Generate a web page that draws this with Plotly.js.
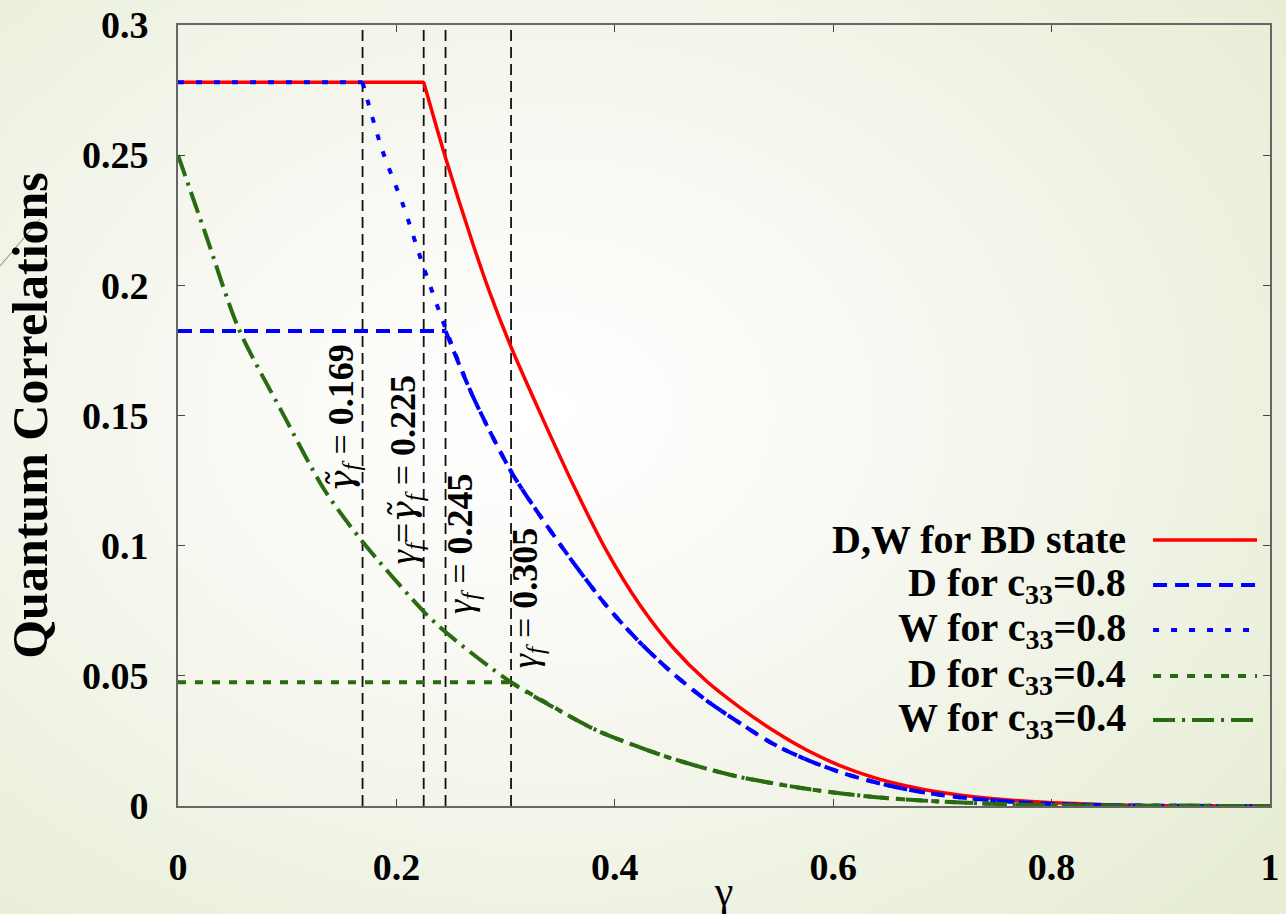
<!DOCTYPE html>
<html>
<head>
<meta charset="utf-8">
<script src="https://cdn.plot.ly/plotly-3.0.1.min.js"></script>
<style>
  html, body { margin: 0; padding: 0; }
  body {
    width: 1286px; height: 914px; overflow: hidden;
    background: radial-gradient(ellipse 75% 80% at 42% 45%, #ffffff 0%, #f8f9f3 35%, #eef2e2 70%, #e6edd3 100%);
  }
  #chart { width: 1286px; height: 914px; }
</style>
</head>
<body>
<div id="chart"></div>
<script>
// ---- Data ----
const gammaBD = [0, 0.225, 0.245, 0.2704, 0.2857, 0.305, 0.3315, 0.362, 0.3926, 0.423, 0.4536, 0.4841, 0.5147, 0.5452, 0.5757, 0.6062, 0.6367, 0.6673, 0.6978, 0.7283, 0.789, 0.85, 0.9, 1.0];
const qcBD    = [0.278, 0.278, 0.249, 0.2155, 0.197, 0.1763, 0.1511, 0.1233, 0.0979, 0.0772, 0.0607, 0.0479, 0.0378, 0.029, 0.0215, 0.0155, 0.011, 0.0077, 0.0053, 0.0036, 0.0015, 0.0005, 0.0001, 0];

const gammaD08 = [0, 0.245, 0.2704, 0.305, 0.3315, 0.362, 0.3926, 0.423, 0.4536, 0.4841, 0.5147, 0.5452, 0.5757, 0.6062, 0.6367, 0.6673, 0.6978, 0.7283, 0.789, 0.85, 0.9, 1.0];
const qcD08    = [0.1825, 0.1825, 0.157, 0.1285, 0.1115, 0.0935, 0.0768, 0.0628, 0.0508, 0.0405, 0.0318, 0.0238, 0.0178, 0.013, 0.0093, 0.0064, 0.0043, 0.0028, 0.001, 0.0003, 0.0001, 0];

const gammaW08 = [0, 0.169, 0.187, 0.206, 0.2245, 0.245, 0.2704, 0.305, 0.3315, 0.362, 0.3926, 0.423, 0.4536, 0.4841, 0.5147, 0.5452, 0.5757, 0.6062, 0.6367, 0.6673, 0.6978, 0.7283, 0.789, 0.85, 0.9, 1.0];
const qcW08    = [0.278, 0.278, 0.252, 0.231, 0.2075, 0.1835, 0.157, 0.1285, 0.1115, 0.0935, 0.0768, 0.0628, 0.0508, 0.0405, 0.0318, 0.0238, 0.0178, 0.013, 0.0093, 0.0064, 0.0043, 0.0028, 0.001, 0.0003, 0.0001, 0];

const gammaD04 = [0, 0.305, 0.362, 0.3864, 0.4475, 0.5085, 0.5757, 0.6367, 0.6978, 0.75, 0.8, 0.9, 1.0];
const qcD04    = [0.0475, 0.0475, 0.0337, 0.0285, 0.0189, 0.0117, 0.0066, 0.0035, 0.0017, 0.0008, 0.0003, 0.0001, 0];

const gammaW04 = [0, 0.025, 0.0556, 0.0948, 0.134, 0.169, 0.225, 0.245, 0.305, 0.362, 0.3864, 0.4475, 0.5085, 0.5757, 0.6367, 0.6978, 0.75, 0.8, 0.9, 1.0];
const qcW04    = [0.25, 0.22, 0.1833, 0.1517, 0.1215, 0.1015, 0.0747, 0.0668, 0.0475, 0.0337, 0.0285, 0.0189, 0.0117, 0.0066, 0.0035, 0.0017, 0.0008, 0.0003, 0.0001, 0];

const gammaF = [0.169, 0.225, 0.245, 0.305];
const TILDE_G = '<span style="font-family:DejaVu Serif">γ̃</span>';
const gammaFLabels = [
  '<i>' + TILDE_G + '<sub>f</sub></i> = <b>0.169</b>',
  '<i>γ<sub>f</sub></i>=<i>' + TILDE_G + '<sub>f</sub></i> = <b>0.225</b>',
  '<i>γ<sub>f</sub></i> = <b>0.245</b>',
  '<i>γ<sub>f</sub></i> = <b>0.305</b>'
];

const seriesNames = [
  'D,W for BD state',
  'D for c<sub>33</sub>=0.8',
  'W for c<sub>33</sub>=0.8',
  'D for c<sub>33</sub>=0.4',
  'W for c<sub>33</sub>=0.4'
];

const xTickVals = [0, 0.2, 0.4, 0.6, 0.8, 1];
const xTickText = ['0', '0.2', '0.4', '0.6', '0.8', '1'];
const yTickVals = [0, 0.05, 0.1, 0.15, 0.2, 0.25, 0.3];
const yTickText = ['0', '0.05', '0.1', '0.15', '0.2', '0.25', '0.3'];

// ---- Styles ----
const FONT = 'Liberation Serif, Times New Roman, serif';
const styles = [
  {color: '#ff0000', dash: 'solid', width: 3.5},
  {color: '#0000ff', dash: '14px,8px', width: 4},
  {color: '#0000ff', dash: '6px,12px', width: 4},
  {color: '#2a6a10', dash: '8px,9px', width: 4},
  {color: '#2a6a10', dash: '22px,7px,3px,7px', width: 4}
];
const xs = [gammaBD, gammaD08, gammaW08, gammaD04, gammaW04];
const ys = [qcBD, qcD08, qcW08, qcD04, qcW04];
const Y_MAX = 0.3;

const traces = [];
gammaF.forEach(g => {
  traces.push({
    x: [g, g], y: [0, Y_MAX], mode: 'lines', type: 'scatter',
    line: {color: '#111', width: 1.8, dash: '11px,6px'},
    hoverinfo: 'skip', showlegend: false
  });
});
xs.forEach((x, i) => {
  const y = ys[i];
  // flat plateau (linear) then smooth decay (spline)
  let k = 0;
  while (k + 1 < y.length && y[k + 1] === y[0]) k++;
  const line = {color: styles[i].color, width: styles[i].width, dash: styles[i].dash};
  if (k > 0) {
    traces.push({x: x.slice(0, k + 1), y: y.slice(0, k + 1), mode: 'lines', type: 'scatter',
      name: seriesNames[i], line: Object.assign({}, line, {shape: 'linear'}), showlegend: false});
  }
  traces.push({x: x.slice(k), y: y.slice(k), mode: 'lines', type: 'scatter',
    name: seriesNames[i], line: Object.assign({}, line, {shape: 'spline', smoothing: 0.8}), showlegend: false});
});

// ---- Custom legend (text on the left, sample on the right) ----
const annotations = [];
const shapes = [];
const legendY = [0.3406, 0.283, 0.2254, 0.1665, 0.110];
seriesNames.forEach((n, i) => {
  annotations.push({
    xref: 'paper', yref: 'paper', x: 0.870, y: legendY[i],
    xanchor: 'right', yanchor: 'middle', showarrow: false,
    text: '<b>' + n + '</b>',
    font: {family: FONT, size: 40, color: '#000'}
  });
  shapes.push({
    type: 'line', xref: 'paper', yref: 'paper',
    x0: 0.8929, x1: 0.9881, y0: legendY[i], y1: legendY[i],
    line: {color: styles[i].color, width: styles[i].width, dash: styles[i].dash}
  });
});

// rotated labels next to the vertical lines
const labelX = [0.151, 0.208, 0.260, 0.320];
const labelY = [0.149, 0.129, 0.101, 0.080];
gammaFLabels.forEach((t, i) => {
  annotations.push({
    xref: 'x', yref: 'y', x: labelX[i], y: labelY[i],
    text: t, textangle: -90, showarrow: false,
    xanchor: 'center', yanchor: 'middle',
    font: {family: FONT, size: 36, color: '#000'}
  });
});

// thin decorative slide line at left
shapes.push({
  type: 'line', xref: 'paper', yref: 'paper',
  x0: (0 - 178) / 1092, y0: (806 - 266) / 781,
  x1: (40 - 178) / 1092, y1: (806 - 219) / 781,
  line: {color: '#8c7f66', width: 1}
});

const axisCommon = {
  showgrid: false, zeroline: false,
  showline: true, linecolor: '#666', linewidth: 2,
  mirror: 'ticks', ticks: 'inside', ticklen: 7, tickwidth: 1.2, tickcolor: '#444',
  tickfont: {family: FONT, size: 38, color: '#000', weight: 'bold'}
};

const layout = {
  width: 1286, height: 914,
  margin: {l: 178, r: 16, t: 25, b: 108, pad: 0},
  paper_bgcolor: 'rgba(0,0,0,0)',
  plot_bgcolor: 'rgba(0,0,0,0)',
  showlegend: false,
  xaxis: Object.assign({}, axisCommon, {
    range: [0, 1], tickvals: xTickVals, ticktext: xTickText,
    ticklabelstandoff: 26,
    title: {text: 'γ', font: {family: FONT, size: 42, color: '#000'}, standoff: 0}
  }),
  yaxis: Object.assign({}, axisCommon, {
    range: [0, Y_MAX], tickvals: yTickVals, ticktext: yTickText,
    ticklabelstandoff: 20,
    title: {text: '<b>Quantum Correlations</b>', font: {family: FONT, size: 50, color: '#000'}, standoff: 18}
  }),
  annotations: annotations,
  shapes: shapes
};

Plotly.newPlot('chart', traces, layout, {displayModeBar: false, staticPlot: true});
</script>
</body>
</html>
